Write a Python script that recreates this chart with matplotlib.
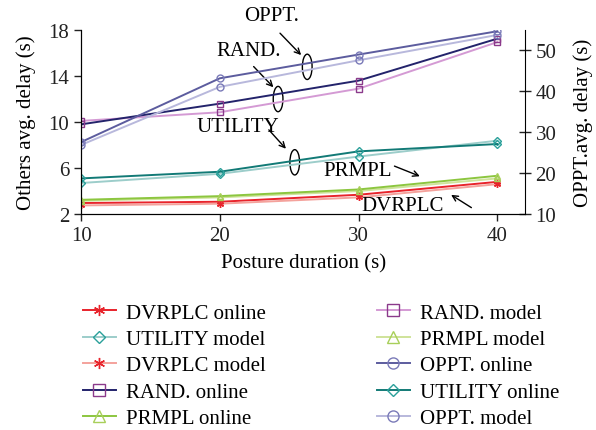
import matplotlib.pyplot as plt
from matplotlib.patches import Ellipse

plt.rcParams['font.family'] = ['Liberation Serif', 'DejaVu Serif']

duration = [10, 20, 30, 40]

# left axis (others avg. delay, s)
dvrplc_online = [2.96, 3.07, 3.68, 4.80]
dvrplc_model = [2.75, 2.90, 3.45, 4.60]
utility_online = [5.10, 5.68, 7.45, 8.09]
utility_model = [4.70, 5.50, 7.00, 8.38]
rand_online = [9.80, 11.60, 13.60, 17.25]
rand_model = [10.10, 10.85, 12.90, 16.95]
prmpl_online = [3.24, 3.56, 4.14, 5.33]
prmpl_model = [3.15, 3.45, 4.00, 5.10]

# right axis (OPPT avg. delay, s)
oppt_online = [27.6, 43.2, 49.0, 54.7]
oppt_model = [26.9, 41.1, 47.6, 53.8]

FS = 15

fig = plt.figure(figsize=(5.96, 4.31), dpi=100)
ax = fig.add_axes([0.136, 0.501, 0.745, 0.427])
ax2 = ax.twinx()

ms = 5
h = {}
h['dvo'], = ax.plot(duration, dvrplc_online, color='#e8232b', lw=1.4, marker=(6, 2, 0), ms=ms, mec='#e8232b')
h['dvm'], = ax.plot(duration, dvrplc_model, color='#f4a29c', lw=1.4, marker=(6, 2, 0), ms=ms, mec='#e8232b')
h['prm'], = ax.plot(duration, prmpl_model, color='#cfe39a', lw=1.4, marker='^', ms=ms, mfc='none', mec='#a8cf5a')
h['pro'], = ax.plot(duration, prmpl_online, color='#8cc63f', lw=1.4, marker='^', ms=ms, mfc='none', mec='#a8cf5a')
h['utm'], = ax.plot(duration, utility_model, color='#9ccdca', lw=1.4, marker='D', ms=ms - 1, mfc='none', mec='#2aa09a')
h['uto'], = ax.plot(duration, utility_online, color='#127a76', lw=1.4, marker='D', ms=ms - 1, mfc='none', mec='#2aa09a')
h['rnm'], = ax.plot(duration, rand_model, color='#d49ad4', lw=1.4, marker='s', ms=ms, mfc='none', mec='#8b3a8b')
h['rno'], = ax.plot(duration, rand_online, color='#23236b', lw=1.4, marker='s', ms=ms, mfc='none', mec='#8b3a8b')
h['opm'], = ax2.plot(duration, oppt_model, color='#b8b8dc', lw=1.4, marker='o', ms=ms, mfc='none', mec='#7a7ab8')
h['opo'], = ax2.plot(duration, oppt_online, color='#5c5c9e', lw=1.4, marker='o', ms=ms, mfc='none', mec='#7a7ab8')

ax.set_xlim(10, 42)
ax.set_ylim(2, 18)
ax.set_yticks([2, 6, 10, 14, 18])
ax.set_xticks(duration)
ax2.set_ylim(10, 55)
ax2.set_yticks([10, 20, 30, 40, 50])

for a in (ax, ax2):
    a.spines['top'].set_visible(False)
    a.tick_params(labelsize=FS, length=5, width=1, colors='#222222')
ax2.tick_params(direction='inout', length=8)
ax.spines['right'].set_visible(False)

ax.set_xlabel('Posture duration (s)', fontsize=FS, labelpad=6)
ax.set_ylabel('Others avg. delay (s)', fontsize=FS, labelpad=9)
ax2.set_ylabel('OPPT.avg. delay (s)', fontsize=FS, labelpad=12)

# annotations
arw = dict(arrowstyle='->', color='black', lw=1)
notes = [('OPPT.', (23.7, 19.25), (24.2, 17.9), (26.0, 15.65)),
         ('RAND.', (22.1, 16.2), (22.3, 15.0), (24.0, 12.85)),
         ('UTILITY', (21.3, 9.65), (23.4, 9.5), (24.9, 7.5)),
         ('PRMPL', (29.9, 5.8), (32.4, 6.26), (34.6, 5.2)),
         ('DVRPLC', (33.2, 2.75), (38.3, 2.43), (36.5, 3.8))]
for txt, tpos, start, end in notes:
    ax.text(tpos[0], tpos[1], txt, fontsize=FS, ha='center', va='center', clip_on=False)
    ax.annotate('', xy=end, xytext=start, arrowprops=arw, annotation_clip=False)

for cx, cy in [(26.3, 14.8), (24.2, 12.0), (25.4, 6.5)]:
    ax.add_patch(Ellipse((cx, cy), 0.7, 2.2, fill=False, ec='black', lw=1))

order = ['dvo', 'utm', 'dvm', 'rno', 'pro', 'rnm', 'prm', 'opo', 'uto', 'opm']
labels = {'dvo': 'DVRPLC online', 'utm': 'UTILITY model', 'dvm': 'DVRPLC model',
          'rno': 'RAND. online', 'pro': 'PRMPL online', 'rnm': 'RAND. model',
          'prm': 'PRMPL model', 'opo': 'OPPT. online', 'uto': 'UTILITY online',
          'opm': 'OPPT. model'}
fig.legend([h[k] for k in order], [labels[k] for k in order], ncol=2,
           loc='upper left', bbox_to_anchor=(0.121, 0.319), frameon=False,
           fontsize=FS, markerscale=1.6, handlelength=1.6, handletextpad=0.5,
           columnspacing=5.3, labelspacing=0.33, borderpad=0)

fig.savefig('out.png', dpi=100)
